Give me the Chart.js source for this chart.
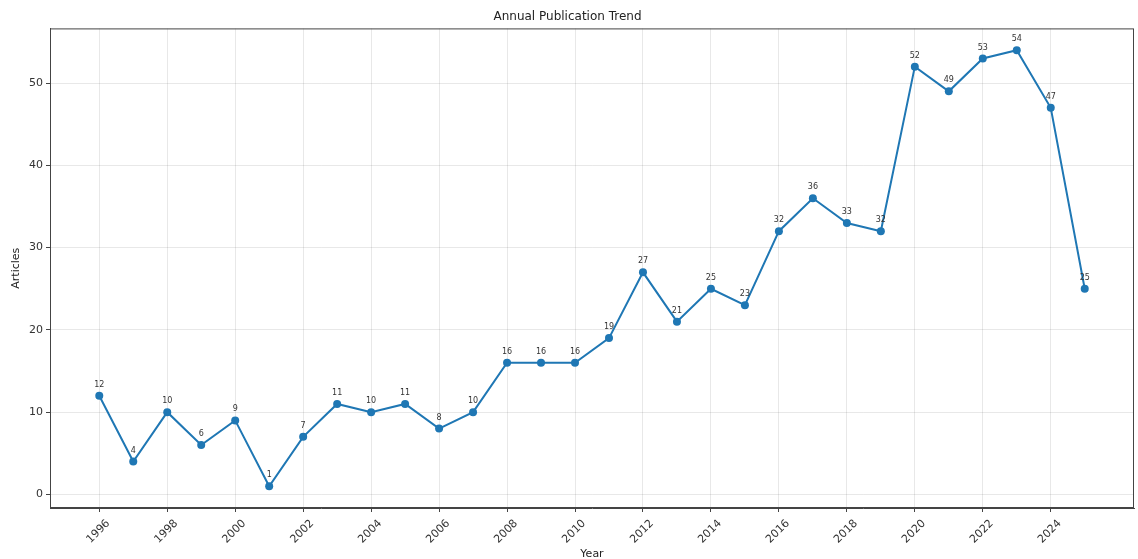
<!DOCTYPE html>
<html>
<head>
<meta charset="utf-8">
<script src="https://cdn.jsdelivr.net/npm/chart.js@4.4.1/dist/chart.umd.min.js"></script>
<style>
  html, body { margin: 0; padding: 0; background: #fff; }
  #wrap { width: 1138px; height: 559px; position: relative; }
</style>
</head>
<body>
<div id="wrap"><canvas id="trend"></canvas></div>
<script>
// data
const years = [1996, 1997, 1998, 1999, 2000, 2001, 2002, 2003, 2004, 2005,
  2006, 2007, 2008, 2009, 2010, 2011, 2012, 2013, 2014, 2015,
  2016, 2017, 2018, 2019, 2020, 2021, 2022, 2023, 2024, 2025];
const articles = [12, 4, 10, 6, 9, 1, 7, 11, 10, 11,
  8, 10, 16, 16, 16, 19, 27, 21, 25, 23,
  32, 36, 33, 32, 52, 49, 53, 54, 47, 25];
const xTicks = [1996, 1998, 2000, 2002, 2004, 2006, 2008, 2010, 2012, 2014,
  2016, 2018, 2020, 2022, 2024];
const yTicks = [0, 10, 20, 30, 40, 50];

const blue = '#1f77b4';
const font = 'DejaVu Sans';

// box round the whole plot area, like matplotlib
const frame = {
  id: 'frame',
  afterDraw(chart) {
    const a = chart.chartArea, c = chart.ctx;
    c.save();
    c.strokeStyle = '#444';
    c.lineWidth = 1;
    c.strokeRect(a.left + 0.5, a.top + 0.5, a.right - a.left - 1, a.bottom - a.top - 1);
    c.restore();
  }
};

// value written above every point
const valueLabels = {
  id: 'valueLabels',
  afterDatasetsDraw(chart) {
    const c = chart.ctx;
    const meta = chart.getDatasetMeta(0);
    c.save();
    c.font = '8px "' + font + '"';
    c.fillStyle = '#333';
    c.textAlign = 'center';
    c.textBaseline = 'middle';
    meta.data.forEach((pt, i) => {
      c.fillText(String(articles[i]), pt.x, pt.y - 11);
    });
    c.restore();
  }
};

const data = {
  datasets: [{
    label: 'Articles',
    data: years.map((y, i) => ({ x: y, y: articles[i] })),
    borderColor: blue,
    backgroundColor: blue,
    borderWidth: 2,
    pointRadius: 4,
    pointHoverRadius: 4,
    pointBackgroundColor: blue,
    pointBorderWidth: 0,
    tension: 0
  }]
};

const config = {
  type: 'line',
  data,
  options: {
    responsive: true,
    maintainAspectRatio: false,
    animation: false,
    layout: { padding: { left: 0, right: 3, top: 0, bottom: 0 } },
    plugins: {
      legend: { display: false },
      tooltip: { enabled: false },
      title: {
        display: true,
        text: 'Annual Publication Trend',
        color: '#222',
        font: { family: font, size: 12, weight: 'normal' },
        padding: { top: 10, bottom: 4 }
      }
    },
    scales: {
      x: {
        type: 'linear',
        min: 1994.55,
        max: 2026.45,
        afterBuildTicks(scale) { scale.ticks = xTicks.map(v => ({ value: v })); },
        afterFit(scale) { scale.height = 51; },
        ticks: {
          color: '#333',
          font: { family: font, size: 11 },
          minRotation: 45,
          maxRotation: 45,
          padding: 5,
          labelOffset: 9,
          callback: v => String(v)
        },
        grid: { color: 'rgba(0,0,0,0.09)', tickColor: '#444', tickLength: 4 },
        border: { display: true, color: '#444' },
        title: {
          display: true,
          text: 'Year',
          color: '#222',
          font: { family: font, size: 11, lineHeight: 0.9 },
          padding: { top: 0, bottom: 0 }
        }
      },
      y: {
        min: -1.65,
        max: 56.65,
        afterBuildTicks(scale) { scale.ticks = yTicks.map(v => ({ value: v })); },
        afterFit(scale) { scale.width = 50; },
        ticks: {
          color: '#333',
          font: { family: font, size: 11 },
          padding: 3
        },
        grid: { color: 'rgba(0,0,0,0.09)', tickColor: '#444', tickLength: 4 },
        border: { display: true, color: '#444' },
        title: {
          display: true,
          text: 'Articles',
          color: '#222',
          font: { family: font, size: 11 },
          padding: { top: 10, bottom: 10 }
        }
      }
    }
  },
  plugins: [frame, valueLabels]
};

const canvas = document.getElementById('trend');
new Chart(canvas, config);
</script>
</body>
</html>
